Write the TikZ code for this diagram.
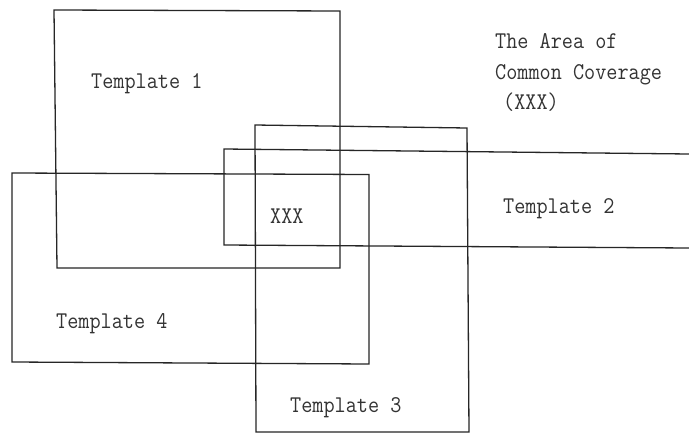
\documentclass[tikz,border=0pt]{standalone}
\usepackage{graphicx}
\begin{document}
\begin{tikzpicture}[x=1pt,y=-1pt,
  edge/.style={draw=black!85,line width=1.3pt,line join=miter},
  lbl/.style={inner sep=0pt,anchor=base west,text=black!80,font=\ttfamily\fontsize{24}{28}\selectfont}]
\useasboundingbox[fill=white] (0,0) rectangle (689,434);
% Template 1
\coordinate (a1) at (54,10);  \coordinate (b1) at (340,11);
\coordinate (c1) at (340,268); \coordinate (d1) at (57,268);
\draw[edge] (a1) -- (b1) -- (c1) -- (d1) -- cycle;
% Template 3
\coordinate (a3) at (255,125); \coordinate (b3) at (467,128);
\coordinate (c3) at (469,432); \coordinate (d3) at (256,432);
\draw[edge] (a3) -- (b3) -- (c3) -- (d3) -- cycle;
% Template 2 (runs off the right edge)
\coordinate (e2) at (689,154); \coordinate (a2) at (224,149);
\coordinate (d2) at (224,245); \coordinate (f2) at (689,248);
\draw[edge] (e2) -- (a2) -- (d2) -- (f2);
% Template 4
\coordinate (a4) at (12,173); \coordinate (b4) at (369,174.5);
\coordinate (c4) at (369,364); \coordinate (d4) at (12,362);
\draw[edge] (a4) -- (b4) -- (c4) -- (d4) -- cycle;
% labels
\node[lbl] (t1) at (91,88) {\scalebox{0.9}[1]{Template 1}};
\node[lbl] (t2) at (503,213) {\scalebox{0.9}[1]{Template 2}};
\node[lbl] (t3) at (290,412) {\scalebox{0.9}[1]{Template 3}};
\node[lbl] (t4) at (56,328) {\scalebox{0.9}[1]{Template 4}};
\node[lbl] (x) at (270,223) {\scalebox{0.9}[1]{XXX}};
\node[lbl] (n1) at (495,48) {\scalebox{0.9}[1]{The Area of}};
\node[lbl] (n2) at (495,79) {\scalebox{0.9}[1]{Common Coverage}};
\node[lbl] (n3) at (503,109) {\scalebox{0.9}[1]{(XXX)}};
\end{tikzpicture}
\end{document}
